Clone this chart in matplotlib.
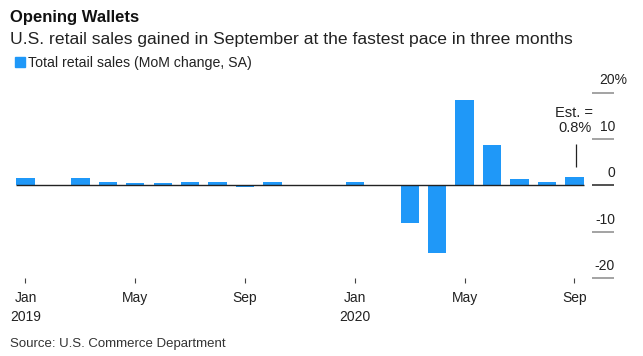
import matplotlib.pyplot as plt
from matplotlib.patches import Rectangle

plt.rcParams['font.family'] = ['Liberation Sans', 'DejaVu Sans']

# 月度零售销售环比变化 (%), 2019年1月 - 2020年9月
months = ['2019-01', '2019-02', '2019-03', '2019-04', '2019-05', '2019-06', '2019-07',
          '2019-08', '2019-09', '2019-10', '2019-11', '2019-12', '2020-01', '2020-02',
          '2020-03', '2020-04', '2020-05', '2020-06', '2020-07', '2020-08', '2020-09']
retail_mom = [1.7, -0.2, 1.7, 0.65, 0.45, 0.45, 0.85, 0.65, -0.35, 0.65, 0.1, 0.2,
              0.85, -0.2, -8.1, -14.6, 18.4, 8.7, 1.3, 0.65, 1.9]
tick_pos = [0, 4, 8, 12, 16, 20]
tick_labels = ['Jan\n2019', 'May', 'Sep', 'Jan\n2020', 'May', 'Sep']
y_ticks = [-20, -10, 0, 10, 20]
y_labels = ['-20', '-10', '0', '10', '20%']
estimate = '0.8%'

blue = '#1F98F8'
fig = plt.figure(figsize=(6.43, 3.56), dpi=100)
ax = fig.add_axes([0.014, 0.2183, 0.9435, 0.5213])

x = list(range(len(retail_mom)))
ax.bar(x, retail_mom, width=0.67, color=blue, zorder=2)
ax.hlines(0, -0.35, len(x) - 0.65, color='#222222', lw=1, zorder=3)

# 右侧的刻度线和标签
for v, lab in zip(y_ticks, y_labels):
    ax.hlines(v, 20.64, 21.44, color='#222222' if v == 0 else '#8a8a8a', lw=1.1, clip_on=False)
    xr = 21.91 if lab.endswith('%') else 21.475
    ax.annotate(lab, xy=(xr, v), xytext=(0, 6), textcoords='offset points',
                ha='right', va='baseline', fontsize=10, color='#222222',
                annotation_clip=False)

# 预估值标注
last = retail_mom[-1]
ax.vlines(x[-1] + 0.04, last + 2, last + 7, color='#222222', lw=0.9)
ax.text(20.67, last + 12.9, 'Est. =', ha='right', va='baseline', fontsize=10.5, color='#222222')
ax.text(20.62, last + 9.6, estimate, ha='right', va='baseline', fontsize=10.5, color='#222222')

ax.set_xlim(-0.6, 21.5)
ax.set_ylim(-20, 20)
ax.set_xticks(tick_pos)
ax.set_xticklabels(tick_labels, fontsize=10, color='#222222', linespacing=1.45)
ax.tick_params(axis='x', length=3.5, width=0.8, color='#444444', pad=6)
ax.set_yticks([])
for s in ax.spines.values():
    s.set_visible(False)
ax.patch.set_alpha(0)

# 标题、副标题、图例、来源
fig.text(10 / 643, 1 - 21.7 / 356, 'Opening Wallets', fontsize=12, fontweight='bold',
         va='baseline', color='#111111')
fig.text(10 / 643, 1 - 44 / 356, 'U.S. retail sales gained in September at the fastest pace in three months',
         fontsize=12.6, va='baseline', color='#222222')
fig.patches.append(Rectangle((15 / 643, 1 - 66.7 / 356), 10 / 643, 9.5 / 356,
                             transform=fig.transFigure, color=blue))
fig.text(28 / 643, 1 - 66.7 / 356, 'Total retail sales (MoM change, SA)', fontsize=10.2,
         va='baseline', color='#222222')
fig.text(10 / 643, 1 - 347.3 / 356, 'Source: U.S. Commerce Department', fontsize=9.5,
         va='baseline', color='#333333')

fig.savefig('out.png', dpi=100)
